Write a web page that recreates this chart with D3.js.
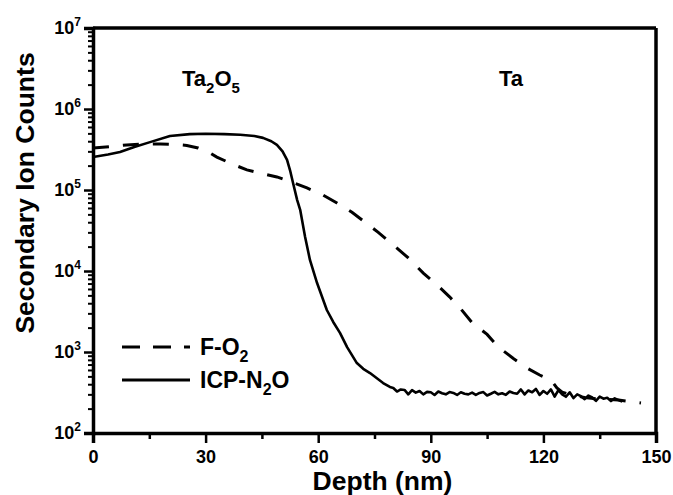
<!DOCTYPE html>
<html>
<head>
<meta charset="utf-8">
<script src="https://cdn.jsdelivr.net/npm/d3@7"></script>
<style>
  html, body { margin: 0; padding: 0; background: #fff; }
  svg { display: block; font-family: "Liberation Sans", Arial, sans-serif; font-weight: bold; }
</style>
</head>
<body>
<svg id="chart" width="673" height="495"></svg>
<script>
// ---- data ----
const icpDepth = [0, 4, 7.2, 11, 15.2, 20.5, 25.8, 30, 35, 39.2, 43, 45.3, 47.5, 49, 50.5, 51.7, 52.5, 53.3, 54.4, 55.2, 56.5, 57.8, 59.7, 62.3, 64, 65.8, 67.7, 70.3, 72, 73.8, 77.3, 79.1,
  80, 81, 82, 83, 84, 85, 86, 87, 88, 89, 90, 91, 92, 93, 94, 95, 96, 97, 98, 99, 100,
  101, 102, 103, 104, 105, 106, 107, 108, 109, 110, 111, 112, 113, 114, 115, 116, 117, 118, 119, 120,
  121, 122, 123, 124, 125, 126, 127, 128, 129, 130, 131, 132, 133, 134, 135, 136, 137, 138, 139, 140, 141];
const icpCounts = [255000, 275000, 295000, 340000, 390000, 465000, 490000, 495000, 490000, 480000, 465000, 440000, 400000, 360000, 300000, 235000, 175000, 122000, 75000, 57000, 26500, 13700, 7100, 3300, 2350, 1720, 1150, 730, 620, 550, 414, 370,
  360, 325, 345, 340, 300, 338, 315, 330, 300, 322, 318, 295, 325, 310, 300, 320, 312, 295, 318, 305, 300,
  315, 295, 312, 320, 290, 305, 322, 300, 310, 296, 325, 312, 305, 345, 300, 335, 318, 350, 295, 330,
  305, 345, 282, 338, 300, 280, 318, 270, 300, 285, 262, 290, 275, 250, 282, 265, 272, 248, 268, 255, 245];

const foDepth = [0, 5, 9, 14, 18, 22, 25, 28, 31, 33, 37, 41, 45, 49, 53, 57, 61, 65, 69, 72.5, 76, 80, 84, 88, 92, 95, 98, 101, 105, 108, 112, 116, 119, 122, 123.6, 125, 128, 131, 134, 137, 140, 143, 146];
const foCounts = [330000, 345000, 360000, 370000, 370000, 365000, 355000, 330000, 290000, 255000, 210000, 177000, 160000, 145000, 125000, 106000, 88000, 69000, 53000, 40000, 30000, 21000, 14500, 9400, 6500, 4800, 3400, 2300, 1650, 1150, 830, 620, 520, 450, 360, 320, 290, 275, 265, 260, 255, 245, 235];

const xTicks = [0, 30, 60, 90, 120, 150];
const xMinorTicks = [15, 45, 75, 105, 135];
const yExponents = [2, 3, 4, 5, 6, 7];
const seriesNames = ["F-O", "ICP-N"];

// ---- layout ----
const svg = d3.select("#chart");
const L = 93, R = 656, T = 28, B = 433;
const x = d3.scaleLinear().domain([0, 150]).range([L, R]);
const y = d3.scaleLog().domain([1e2, 1e7]).range([B, T]);

// frame: top and right
svg.append("line").attr("x1", L).attr("x2", R).attr("y1", T).attr("y2", T).attr("stroke", "#000").attr("stroke-width", 3.5);
svg.append("line").attr("x1", R).attr("x2", R).attr("y1", T).attr("y2", B).attr("stroke", "#000").attr("stroke-width", 3.5);

// x axis
const xAxis = d3.axisBottom(x).tickValues(xTicks).tickSize(10).tickPadding(7).tickFormat(d3.format("d"));
const gx = svg.append("g").attr("transform", `translate(0,${B})`).call(xAxis);
gx.select(".domain").attr("stroke-width", 3.5);
gx.selectAll(".tick line").attr("stroke-width", 2.5);
gx.selectAll(".tick text").attr("font-size", 18).attr("font-weight", "bold").attr("font-family", "Liberation Sans, Arial, sans-serif").attr("fill", "#000");
const xMinor = d3.axisBottom(x).tickValues(xMinorTicks).tickSize(6).tickFormat("");
const gxm = svg.append("g").attr("transform", `translate(0,${B})`).call(xMinor);
gxm.select(".domain").remove();
gxm.selectAll(".tick line").attr("stroke-width", 2.5);

// y axis
const yMajor = yExponents.map(e => Math.pow(10, e));
const yAxis = d3.axisLeft(y).tickValues(yMajor).tickSize(9).tickFormat("");
const gy = svg.append("g").attr("transform", `translate(${L},0)`).call(yAxis);
gy.select(".domain").attr("stroke-width", 3.5);
gy.selectAll(".tick line").attr("stroke-width", 2.5);
const yMinorVals = [];
for (let e = 2; e < 7; e++) for (let m = 2; m <= 9; m++) yMinorVals.push(m * Math.pow(10, e));
const gym = svg.append("g").attr("transform", `translate(${L},0)`).call(d3.axisLeft(y).tickValues(yMinorVals).tickSize(5).tickFormat(""));
gym.select(".domain").remove();
gym.selectAll(".tick line").attr("stroke-width", 2);

// y tick labels with superscripts
const yl = svg.append("g");
yExponents.forEach(e => {
  const t = yl.append("text").attr("x", 81).attr("y", y(Math.pow(10, e)) + 6)
    .attr("text-anchor", "end").attr("font-size", 18).attr("fill", "#000");
  t.append("tspan").text("10");
  t.append("tspan").attr("font-size", 12).attr("dy", -8).text(e);
});

// axis titles
svg.append("text").attr("x", (L + R) / 2 + 8).attr("y", 490).attr("text-anchor", "middle")
  .attr("font-size", 26.5).attr("fill", "#000").text("Depth (nm)");
svg.append("text").attr("transform", `translate(34,193) rotate(-90)`).attr("text-anchor", "middle")
  .attr("font-size", 26.5).attr("fill", "#000").text("Secondary Ion Counts");

// clip
svg.append("clipPath").attr("id", "clip").append("rect").attr("x", L).attr("y", T).attr("width", R - L).attr("height", B - T);

const line = d3.line().x(d => x(d[0])).y(d => y(d[1]));
const foData = foDepth.map((d, i) => [d, foCounts[i]]);
const icpData = icpDepth.map((d, i) => [d, icpCounts[i]]);

svg.append("path").datum(foData).attr("clip-path", "url(#clip)").attr("d", line)
  .attr("fill", "none").attr("stroke", "#000").attr("stroke-width", 3).attr("stroke-dasharray", "16,14");
svg.append("path").datum(icpData).attr("clip-path", "url(#clip)").attr("d", line)
  .attr("fill", "none").attr("stroke", "#000").attr("stroke-width", 2.6).attr("stroke-linejoin", "round");

// region labels
const t1 = svg.append("text").attr("x", 182).attr("y", 86).attr("font-size", 22).attr("fill", "#000");
t1.append("tspan").text("Ta");
t1.append("tspan").attr("font-size", 15).attr("dy", 7).text("2");
t1.append("tspan").attr("dy", -7).text("O");
t1.append("tspan").attr("font-size", 15).attr("dy", 7).text("5");
svg.append("text").attr("x", 499).attr("y", 86).attr("font-size", 22).attr("fill", "#000").text("Ta");

// legend
const lg = svg.append("g");
lg.append("line").attr("x1", 122).attr("x2", 190).attr("y1", 347).attr("y2", 347)
  .attr("stroke", "#000").attr("stroke-width", 3).attr("stroke-dasharray", "18,13");
lg.append("line").attr("x1", 122).attr("x2", 190).attr("y1", 380).attr("y2", 380)
  .attr("stroke", "#000").attr("stroke-width", 3);
const lt1 = lg.append("text").attr("x", 200).attr("y", 355).attr("font-size", 23).attr("fill", "#000");
lt1.append("tspan").text(seriesNames[0]);
lt1.append("tspan").attr("font-size", 16).attr("dy", 7).text("2");
const lt2 = lg.append("text").attr("x", 200).attr("y", 388).attr("font-size", 23).attr("fill", "#000");
lt2.append("tspan").text(seriesNames[1]);
lt2.append("tspan").attr("font-size", 16).attr("dy", 7).text("2");
lt2.append("tspan").attr("dy", -7).text("O");
</script>
</body>
</html>
